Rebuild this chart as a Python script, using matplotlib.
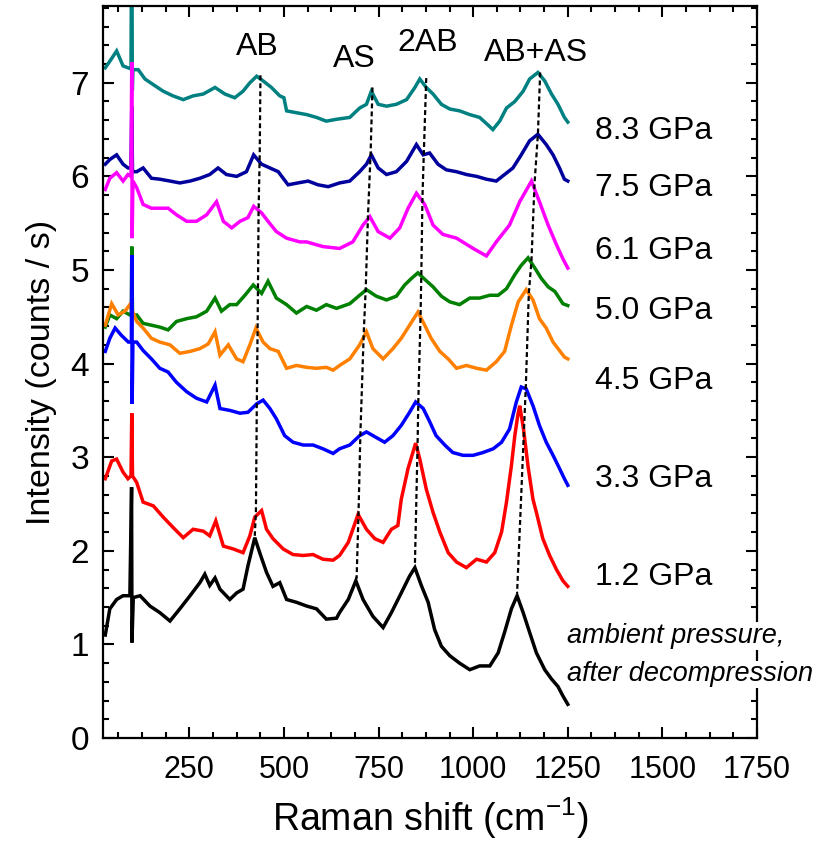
import matplotlib
matplotlib.use("Agg")
import matplotlib.pyplot as plt
from matplotlib import font_manager
from matplotlib.ticker import MultipleLocator

plt.rcParams['font.family'] = ['Liberation Sans', 'DejaVu Sans']
plt.rcParams['mathtext.fontset'] = 'custom'
plt.rcParams['mathtext.rm'] = 'Liberation Sans'
plt.rcParams['mathtext.it'] = 'Liberation Sans:italic'

# ---- spectra (Raman shift in cm-1, intensity in counts/s) ----
x_amb = [28, 40, 58, 75, 93, 97.5, 98.5, 102, 120, 146, 172, 199, 225, 252, 278, 291, 304, 318, 331,
         357, 375, 392, 405, 423, 436, 454, 471, 489, 507, 533, 560, 586, 612, 639, 647, 670, 690,
         709, 735, 762, 784, 810, 832, 846, 863, 881, 898, 916, 938, 964, 991, 1017, 1044, 1066,
         1083, 1101, 1116, 1132, 1149, 1167, 1189, 1207, 1224, 1237, 1250]
y_amb = [1.10, 1.38, 1.48, 1.52, 1.52, 2.68, 1.02, 1.50, 1.52, 1.41, 1.34, 1.25, 1.38, 1.52, 1.66, 1.75,
         1.63, 1.71, 1.59, 1.48, 1.55, 1.59, 1.84, 2.14, 1.98, 1.77, 1.62, 1.66, 1.48, 1.45, 1.41, 1.38,
         1.27, 1.28, 1.34, 1.48, 1.68, 1.48, 1.30, 1.18, 1.34, 1.55, 1.73, 1.82, 1.63, 1.45, 1.16, 0.98,
         0.88, 0.80, 0.73, 0.77, 0.77, 0.91, 1.13, 1.38, 1.52, 1.34, 1.13, 0.91, 0.73, 0.63, 0.55, 0.45,
         0.36]

x_12 = [28, 45, 58, 75, 88, 96, 98, 100, 111, 128, 155, 181, 207, 234, 260, 287, 304, 320, 340, 366,
        392, 410, 423, 441, 454, 471, 498, 524, 551, 577, 603, 630, 647, 670, 696, 718, 740, 762, 784,
        801, 810, 828, 848, 859, 876, 894, 912, 934, 956, 982, 1009, 1035, 1057, 1075, 1088, 1101,
        1110, 1118, 1123, 1133, 1145, 1158, 1167, 1184, 1202, 1220, 1237, 1250]
y_12 = [2.77, 2.96, 2.98, 2.84, 2.77, 2.80, 3.47, 2.80, 2.73, 2.52, 2.48, 2.36, 2.25, 2.14, 2.23, 2.21,
        2.16, 2.32, 2.05, 2.02, 1.98, 2.16, 2.36, 2.43, 2.23, 2.13, 2.02, 1.96, 1.95, 1.96, 1.91, 1.90,
        1.95, 2.09, 2.39, 2.23, 2.13, 2.09, 2.23, 2.27, 2.55, 2.88, 3.15, 2.98, 2.66, 2.41, 2.20, 1.98,
        1.88, 1.82, 1.91, 1.88, 1.98, 2.20, 2.52, 2.91, 3.23, 3.45, 3.55, 3.30, 2.90, 2.55, 2.41, 2.13,
        1.95, 1.80, 1.68, 1.62]

x_33 = [28, 40, 54, 71, 89, 97, 98, 99, 101, 111, 128, 150, 172, 194, 216, 243, 269, 296, 318, 331,
        357, 384, 405, 428, 445, 463, 480, 502, 524, 551, 577, 603, 630, 647, 674, 700, 718, 744, 766,
        788, 810, 832, 848, 868, 885, 902, 925, 946, 973, 1000, 1026, 1053, 1075, 1096, 1114, 1127,
        1140, 1158, 1175, 1193, 1211, 1228, 1241, 1250]
y_33 = [4.13, 4.27, 4.38, 4.30, 4.23, 4.23, 5.16, 3.57, 4.23, 4.23, 4.14, 4.05, 3.95, 3.91, 3.80, 3.70,
        3.63, 3.59, 3.77, 3.52, 3.50, 3.47, 3.48, 3.57, 3.61, 3.52, 3.41, 3.23, 3.16, 3.13, 3.13, 3.09,
        3.04, 3.09, 3.13, 3.23, 3.27, 3.21, 3.16, 3.23, 3.34, 3.48, 3.59, 3.52, 3.38, 3.23, 3.13, 3.05,
        3.02, 3.02, 3.05, 3.09, 3.16, 3.30, 3.59, 3.75, 3.73, 3.55, 3.34, 3.16, 3.02, 2.88, 2.77, 2.70]

x_45 = [28, 45, 62, 80, 93, 111, 128, 150, 172, 199, 225, 252, 278, 300, 318, 331, 353, 375, 392, 410,
        426, 445, 463, 485, 507, 533, 560, 586, 612, 630, 647, 674, 700, 718, 735, 762, 788, 810, 832,
        854, 872, 889, 912, 934, 956, 982, 1009, 1035, 1061, 1083, 1101, 1119, 1140, 1158, 1175, 1193,
        1211, 1228, 1241, 1250]
y_45 = [4.41, 4.64, 4.52, 4.56, 4.63, 4.45, 4.38, 4.27, 4.23, 4.20, 4.11, 4.13, 4.16, 4.21, 4.34, 4.09,
        4.20, 4.05, 4.02, 4.20, 4.38, 4.23, 4.16, 4.13, 3.95, 3.98, 3.96, 3.95, 3.96, 3.93, 3.98, 4.05,
        4.20, 4.34, 4.16, 4.05, 4.16, 4.27, 4.41, 4.55, 4.41, 4.27, 4.13, 4.05, 3.95, 3.98, 3.95, 3.93,
        4.02, 4.13, 4.41, 4.66, 4.79, 4.68, 4.48, 4.38, 4.23, 4.14, 4.07, 4.05]

x_50 = [28, 40, 58, 75, 93, 97, 98, 100, 111, 128, 150, 172, 194, 216, 243, 269, 296, 318, 335, 357,
        375, 397, 419, 441, 458, 480, 507, 533, 560, 586, 612, 639, 674, 700, 718, 744, 771, 797, 819,
        837, 854, 872, 894, 916, 938, 964, 991, 1017, 1044, 1066, 1088, 1110, 1127, 1145, 1163, 1180,
        1198, 1216, 1237, 1250]
y_50 = [4.39, 4.52, 4.48, 4.56, 4.52, 4.52, 5.25, 4.52, 4.52, 4.43, 4.41, 4.39, 4.36, 4.45, 4.48, 4.50,
        4.56, 4.70, 4.56, 4.63, 4.63, 4.73, 4.84, 4.75, 4.88, 4.70, 4.63, 4.54, 4.61, 4.57, 4.63, 4.59,
        4.64, 4.73, 4.79, 4.72, 4.68, 4.72, 4.84, 4.91, 4.97, 4.90, 4.82, 4.72, 4.66, 4.63, 4.70, 4.70,
        4.73, 4.73, 4.80, 4.95, 5.05, 5.13, 5.02, 4.91, 4.82, 4.77, 4.64, 4.62]

x_61 = [28, 40, 58, 75, 88, 96, 98, 99, 101, 111, 128, 150, 172, 194, 216, 243, 269, 296, 322, 340,
        362, 384, 405, 420, 441, 458, 480, 507, 542, 560, 603, 647, 682, 709, 727, 749, 780, 806, 828,
        850, 872, 894, 920, 956, 1000, 1035, 1061, 1096, 1123, 1154, 1175, 1198, 1220, 1237, 1250]
y_61 = [5.86, 5.98, 6.04, 5.95, 6.02, 6.00, 7.22, 5.34, 5.95, 5.88, 5.70, 5.66, 5.66, 5.66, 5.59, 5.52,
        5.52, 5.59, 5.73, 5.52, 5.45, 5.52, 5.56, 5.68, 5.61, 5.52, 5.41, 5.34, 5.30, 5.30, 5.25, 5.23,
        5.30, 5.48, 5.57, 5.41, 5.34, 5.45, 5.66, 5.82, 5.70, 5.48, 5.38, 5.34, 5.23, 5.15, 5.30, 5.48,
        5.73, 5.95, 5.73, 5.48, 5.27, 5.12, 5.02]

x_75 = [28, 40, 58, 75, 88, 96, 98, 100, 111, 128, 150, 172, 199, 225, 252, 278, 304, 326, 348, 375,
        401, 420, 441, 463, 485, 511, 537, 564, 590, 617, 647, 674, 700, 718, 731, 749, 771, 797, 824,
        850, 868, 885, 907, 929, 956, 982, 1009, 1035, 1061, 1083, 1105, 1127, 1149, 1171, 1193, 1211,
        1228, 1241, 1250]
y_75 = [6.13, 6.18, 6.23, 6.13, 6.09, 6.09, 6.75, 6.05, 6.05, 6.09, 5.98, 5.97, 5.95, 5.93, 5.95, 5.98,
        6.02, 6.09, 6.02, 6.00, 6.05, 6.23, 6.13, 6.09, 6.05, 5.91, 5.93, 5.95, 5.91, 5.89, 5.93, 5.95,
        6.05, 6.13, 6.23, 6.09, 6.02, 6.05, 6.16, 6.34, 6.23, 6.25, 6.13, 6.07, 6.05, 6.02, 6.00, 5.97,
        5.95, 6.02, 6.09, 6.23, 6.38, 6.45, 6.34, 6.23, 6.09, 5.97, 5.95]

x_83 = [28, 40, 58, 75, 88, 96, 98, 99.5, 101, 115, 133, 155, 181, 207, 234, 260, 287, 318, 344, 370,
        392, 410, 428, 445, 467, 489, 500, 507, 533, 560, 586, 612, 639, 674, 700, 718, 731, 749, 771,
        797, 824, 846, 859, 876, 894, 916, 938, 964, 991, 1017, 1039, 1052, 1070, 1088, 1110, 1132,
        1149, 1171, 1189, 1207, 1224, 1241, 1250]
y_83 = [7.16, 7.23, 7.34, 7.18, 7.16, 7.15, 9.00, 6.92, 7.14, 7.14, 7.04, 6.98, 6.91, 6.86, 6.82, 6.86,
        6.88, 6.95, 6.88, 6.84, 6.91, 7.00, 7.07, 7.02, 6.95, 6.86, 6.84, 6.70, 6.68, 6.66, 6.63, 6.59,
        6.61, 6.63, 6.73, 6.77, 6.91, 6.77, 6.75, 6.77, 6.82, 6.95, 7.04, 6.95, 6.88, 6.77, 6.72, 6.70,
        6.66, 6.63, 6.55, 6.50, 6.59, 6.73, 6.80, 6.91, 7.04, 7.11, 7.02, 6.88, 6.77, 6.63, 6.58]

labels = ['8.3 GPa', '7.5 GPa', '6.1 GPa', '5.0 GPa', '4.5 GPa', '3.3 GPa', '1.2 GPa']
label_y = [6.49, 5.88, 5.20, 4.56, 3.81, 2.77, 1.72]
colors = ['#008080', '#00009c', '#ff00ff', '#008000', '#ff8000', '#0000ff', '#ff0000', '#000000']

# peak positions joined by the dotted guides (top spectrum -> bottom spectrum)
ab_x = [438, 436, 433, 431.5, 430.5, 428.5, 426, 423]
ab_y = [7.08, 6.22, 5.62, 4.85, 4.38, 3.62, 2.42, 2.16]
as_x = [734, 729, 722, 716, 711, 702, 697, 692]
as_y = [6.95, 6.25, 5.57, 4.79, 4.34, 3.25, 2.39, 1.70]
ab2_x = [876, 870, 866, 863, 861, 855, 853, 846]
ab2_y = [7.05, 6.30, 5.78, 4.96, 4.52, 3.59, 3.12, 1.84]
abas_x = [1177, 1171, 1162, 1154, 1147, 1139, 1116]
abas_y = [7.11, 6.45, 5.92, 5.10, 4.75, 3.75, 1.55]

peak_names = ['AB', 'AS', '2AB', 'AB+AS']
peak_name_x = [431, 687, 880, 1167]
peak_name_y = [7.38, 7.25, 7.43, 7.32]

spectra = [(x_83, y_83), (x_75, y_75), (x_61, y_61), (x_50, y_50),
           (x_45, y_45), (x_33, y_33), (x_12, y_12), (x_amb, y_amb)]

# narrow face for the x tick labels if it is there
try:
    font_manager.findfont('Liberation Sans Narrow', fallback_to_default=False)
    narrow = 'Liberation Sans Narrow'
    xtick_size = 25
except ValueError:
    narrow = 'Liberation Sans'
    xtick_size = 22

fig = plt.figure(figsize=(8.22, 8.48), dpi=100)
ax = fig.add_axes([0.1253, 0.1297, 0.7957, 0.8632])

for (xs, ys), c in zip(spectra, colors):
    ax.plot(xs, ys, color=c, lw=2.5, solid_joinstyle='miter')

for gx, gy in [(ab_x, ab_y), (as_x, as_y), (ab2_x, ab2_y), (abas_x, abas_y)]:
    ax.plot(gx, gy, color='black', lw=1.6, linestyle=(0, (2.2, 1.4)), zorder=5)

for name, px, py in zip(peak_names, peak_name_x, peak_name_y):
    ax.text(px, py, name, fontsize=23, ha='center', va='center')

for lab, ly in zip(labels, label_y):
    ax.text(1323, ly, lab, fontsize=23, ha='left', va='center')

for txt, ty in [('ambient pressure,', 1.09), ('after decompression', 0.68)]:
    ax.text(1247, ty, txt, fontsize=19.5, style='italic', ha='left', va='center', zorder=10,
            bbox=dict(facecolor='white', edgecolor='none', pad=0.5))

ax.set_xlim(22, 1750)
ax.set_ylim(0, 7.82)
ax.xaxis.set_major_locator(MultipleLocator(250))
ax.xaxis.set_minor_locator(MultipleLocator(62.5))
ax.yaxis.set_major_locator(MultipleLocator(1))
ax.yaxis.set_minor_locator(MultipleLocator(0.2))
ax.set_xticks([250, 500, 750, 1000, 1250, 1500, 1750])
ax.tick_params(which='both', direction='in', top=True, right=True, width=1.5)
ax.tick_params(which='major', length=8)
ax.tick_params(which='minor', length=4.5)
ax.tick_params(axis='x', pad=12)
ax.tick_params(axis='y', labelsize=24, pad=10)
for lab in ax.get_xticklabels():
    lab.set_fontfamily(narrow)
    lab.set_fontsize(xtick_size)
for s in ax.spines.values():
    s.set_linewidth(1.6)

ax.set_xlabel('Raman shift (cm$^{-1}$)', fontsize=27, labelpad=8)
ax.set_ylabel('Intensity (counts / s)', fontsize=24.5, labelpad=10)

fig.savefig('out.png', dpi=100)
